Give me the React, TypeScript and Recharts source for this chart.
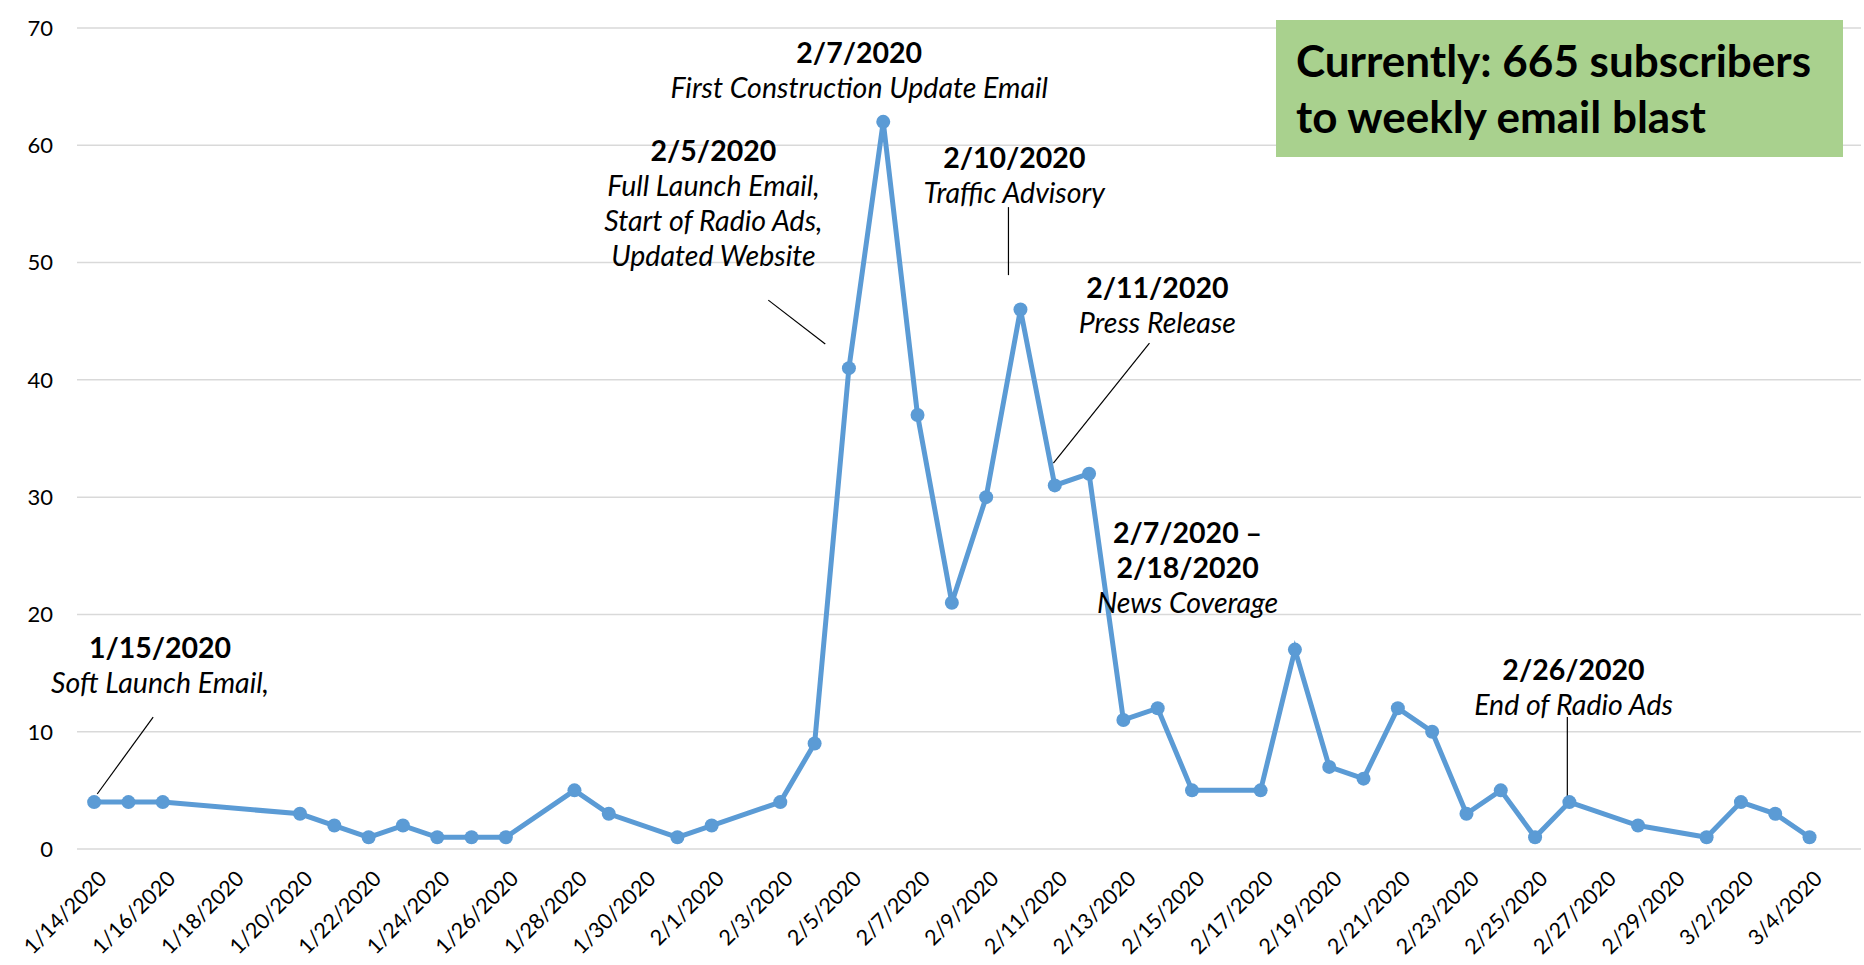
import { CartesianGrid, Line, LineChart, ReferenceDot, ReferenceLine, XAxis, YAxis } from 'recharts';

const dates = [
    '1/14/2020', '1/15/2020', '1/16/2020', '1/20/2020', '1/21/2020', '1/22/2020', '1/23/2020', '1/24/2020',
    '1/25/2020', '1/26/2020', '1/28/2020', '1/29/2020', '1/31/2020', '2/1/2020', '2/3/2020', '2/4/2020',
    '2/5/2020', '2/6/2020', '2/7/2020', '2/8/2020', '2/9/2020', '2/10/2020', '2/11/2020', '2/12/2020',
    '2/13/2020', '2/14/2020', '2/15/2020', '2/17/2020', '2/18/2020', '2/19/2020', '2/20/2020', '2/21/2020',
    '2/22/2020', '2/23/2020', '2/24/2020', '2/25/2020', '2/26/2020', '2/28/2020', '3/1/2020', '3/2/2020',
    '3/3/2020', '3/4/2020',
];
const subscribers = [
    4, 4, 4, 3, 2, 1, 2, 1, 1, 1, 5, 3, 1, 2, 4, 9, 41, 62, 37, 21, 30, 46, 31, 32, 11, 12, 5, 5, 17, 7, 6, 12, 10,
    3, 5, 1, 4, 2, 1, 4, 3, 1,
];
const tickLabels = [
    '1/14/2020', '1/16/2020', '1/18/2020', '1/20/2020', '1/22/2020', '1/24/2020', '1/26/2020', '1/28/2020',
    '1/30/2020', '2/1/2020', '2/3/2020', '2/5/2020', '2/7/2020', '2/9/2020', '2/11/2020', '2/13/2020',
    '2/15/2020', '2/17/2020', '2/19/2020', '2/21/2020', '2/23/2020', '2/25/2020', '2/27/2020', '2/29/2020',
    '3/2/2020', '3/4/2020',
];
const yTicks = [0, 10, 20, 30, 40, 50, 60, 70];

// callouts: anchor in (day, value) space, first line baseline sits at the anchor
const callouts = [
    { x: 1.92, y: 16.3, bold: ['1/15/2020'], italic: ['Soft Launch Email,'] },
    { x: 18.05, y: 58.7, bold: ['2/5/2020'], italic: ['Full Launch Email,', 'Start of Radio Ads,', 'Updated Website'] },
    { x: 22.3, y: 67.0, bold: ['2/7/2020'], italic: ['First Construction Update Email'] },
    { x: 26.82, y: 58.06, bold: ['2/10/2020'], italic: ['Traffic Advisory'] },
    { x: 30.99, y: 46.97, bold: ['2/11/2020'], italic: ['Press Release'] },
    { x: 31.87, y: 26.09, bold: ['2/7/2020 \u2013', '2/18/2020'], italic: ['News Coverage'] },
    { x: 43.12, y: 14.4, bold: ['2/26/2020'], italic: ['End of Radio Ads'] },
];
const leaders = [
    [{ x: 1.72, y: 11.25 }, { x: 0.09, y: 4.69 }],
    [{ x: 19.65, y: 46.8 }, { x: 21.31, y: 43.05 }],
    [{ x: 26.65, y: 54.73 }, { x: 26.65, y: 48.93 }],
    [{ x: 30.76, y: 43.14 }, { x: 27.96, y: 32.9 }],
    [{ x: 42.94, y: 11.25 }, { x: 42.94, y: 4.52 }],
];

const FONT = 'Lato, "Open Sans", sans-serif';
const START = Date.UTC(2020, 0, 14);

function dayOf(label: string) {
    const [m, d, y] = label.split('/').map(Number);
    return Math.round((Date.UTC(y, m - 1, d) - START) / 86400000);
}

const data = dates.map((d, i) => ({ day: dayOf(d), value: subscribers[i] }));
const xTicks = tickLabels.map(dayOf);
const labelByDay: Record<number, string> = {};
tickLabels.forEach((t) => (labelByDay[dayOf(t)] = t));

function DateTick({ x, y, payload }: any) {
    return (
        <g transform={`translate(${x + 14},${y + 23})`}>
            <text textAnchor="end" transform="rotate(-45)" fontSize={21.5} fontFamily={FONT} fill="#000">
                {labelByDay[payload.value]}
            </text>
        </g>
    );
}

function callout(c: (typeof callouts)[number]) {
    return (props: any) => {
        const { cx, cy } = props;
        const lines = [
            ...c.bold.map((t) => ({ t, bold: true })),
            ...c.italic.map((t) => ({ t, bold: false })),
        ];
        return (
            <text x={cx} y={cy} textAnchor="middle" fontFamily={FONT} fontSize={28.5} fill="#000">
                {lines.map((l, i) => (
                    <tspan
                        key={i}
                        x={cx}
                        dy={i === 0 ? 0 : 35}
                        fontWeight={l.bold ? 700 : 400}
                        fontStyle={l.bold ? 'normal' : 'italic'}
                    >
                        {l.t}
                    </tspan>
                ))}
            </text>
        );
    };
}

export default function App() {
    return (
        <div style={{ position: 'absolute', left: 0, top: 0, width: 1864, height: 965, background: '#fff', fontFamily: FONT }}>
            <LineChart width={1864} height={965} data={data} margin={{ top: 28, right: 3, left: 0, bottom: 0 }}>
                <CartesianGrid vertical={false} stroke="#D9D9D9" strokeWidth={1.5} />
                <XAxis
                    dataKey="day"
                    type="number"
                    domain={[-0.5, 51.5]}
                    ticks={xTicks}
                    interval={0}
                    axisLine={false}
                    tickLine={false}
                    height={116}
                    tick={<DateTick />}
                />
                <YAxis
                    domain={[0, 70]}
                    ticks={yTicks}
                    width={77}
                    axisLine={false}
                    tickLine={false}
                    tickSize={0}
                    tickMargin={24}
                    tick={{ fontSize: 22, fontFamily: FONT, fill: '#000' }}
                />
                <Line
                    dataKey="value"
                    stroke="#5B9BD5"
                    strokeWidth={5}
                    dot={{ r: 7, fill: '#5B9BD5', stroke: '#5B9BD5', strokeWidth: 0 }}
                    isAnimationActive={false}
                />
                {leaders.map((seg, i) => (
                    <ReferenceLine key={`l${i}`} segment={seg} stroke="#000" strokeWidth={1.2} />
                ))}
                {callouts.map((c, i) => (
                    <ReferenceDot key={`c${i}`} x={c.x} y={c.y} r={0} shape={callout(c)} />
                ))}
            </LineChart>
            <div
                style={{
                    position: 'absolute',
                    left: 1276,
                    top: 20,
                    width: 567,
                    height: 137,
                    boxSizing: 'border-box',
                    background: '#A9D18E',
                    paddingLeft: 20,
                    paddingTop: 12,
                    fontSize: 44,
                    lineHeight: '56px',
                    fontWeight: 700,
                    color: '#000',
                }}
            >
                Currently: 665 subscribers
                <br />
                to weekly email blast
            </div>
        </div>
    );
}
